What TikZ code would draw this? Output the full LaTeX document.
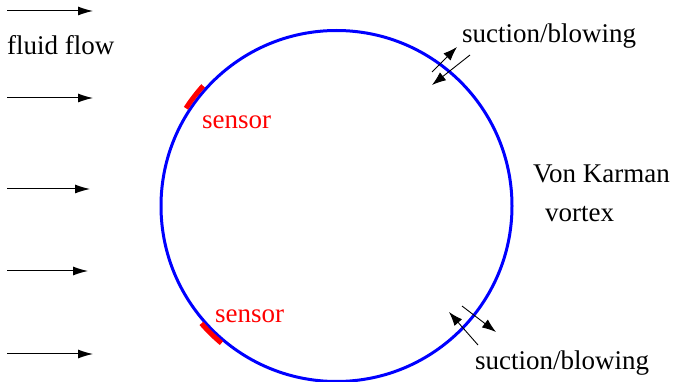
\documentclass[tikz,border=0pt]{standalone}
\usepackage{fontspec}
\setmainfont{Liberation Serif}
\usetikzlibrary{arrows.meta}
\begin{document}
\begin{tikzpicture}[x=1pt,y=-1pt,
  flow/.style={line width=1pt,-{Latex[length=15pt,width=9pt]}},
  jet/.style={line width=0.9pt,-{Latex[length=14pt,width=10pt]}},
  lab/.style={anchor=base west,inner sep=0pt,font=\fontsize{27}{32}\selectfont},
  sensorarc/.style={draw=red,line width=5pt},
  sensorlab/.style={lab,text=red}]
\useasboundingbox (0,0) rectangle (678,382);
% cylinder
\node[draw=blue,circle,minimum size=351pt,inner sep=0pt,line width=3pt] (cyl) at (336.5,206) {};
% flow arrows
\foreach \i/\y/\xe in {1/11/93,2/98/93,3/189/90,4/271/88,5/354/93}{
  \coordinate (fs\i) at (7,\y);
  \coordinate (fe\i) at (\xe,\y);
  \draw[flow] (fs\i) -- (fe\i);
}
\node[lab] (fluid) at (7,55) {fluid flow};
% sensors
\draw[sensorarc] ([shift={(cyl.center)}]213:179.5) arc[start angle=213,end angle=222,radius=179.5];
\draw[sensorarc] ([shift={(cyl.center)}]130:179) arc[start angle=130,end angle=139,radius=179];
\node[sensorlab] (s1) at (202,129) {sensor};
\node[sensorlab] (s2) at (215,323) {sensor};
% suction/blowing top
\coordinate (a1) at (432,72); \coordinate (a2) at (457,47);
\coordinate (b1) at (470,55); \coordinate (b2) at (432,85);
\draw[jet] (a1) -- (a2);
\draw[jet] (b1) -- (b2);
\node[lab] (sb1) at (462,43) {suction/blowing};
% suction/blowing bottom
\coordinate (c1) at (478,345); \coordinate (c2) at (449,312);
\coordinate (d1) at (462,306); \coordinate (d2) at (496,332);
\draw[jet] (c1) -- (c2);
\draw[jet] (d1) -- (d2);
\node[lab] (sb2) at (475,370) {suction/blowing};
% von karman
\node[lab] (vk) at (533,183) {Von Karman};
\node[lab] (vx) at (545,222) {vortex};
\end{tikzpicture}
\end{document}
